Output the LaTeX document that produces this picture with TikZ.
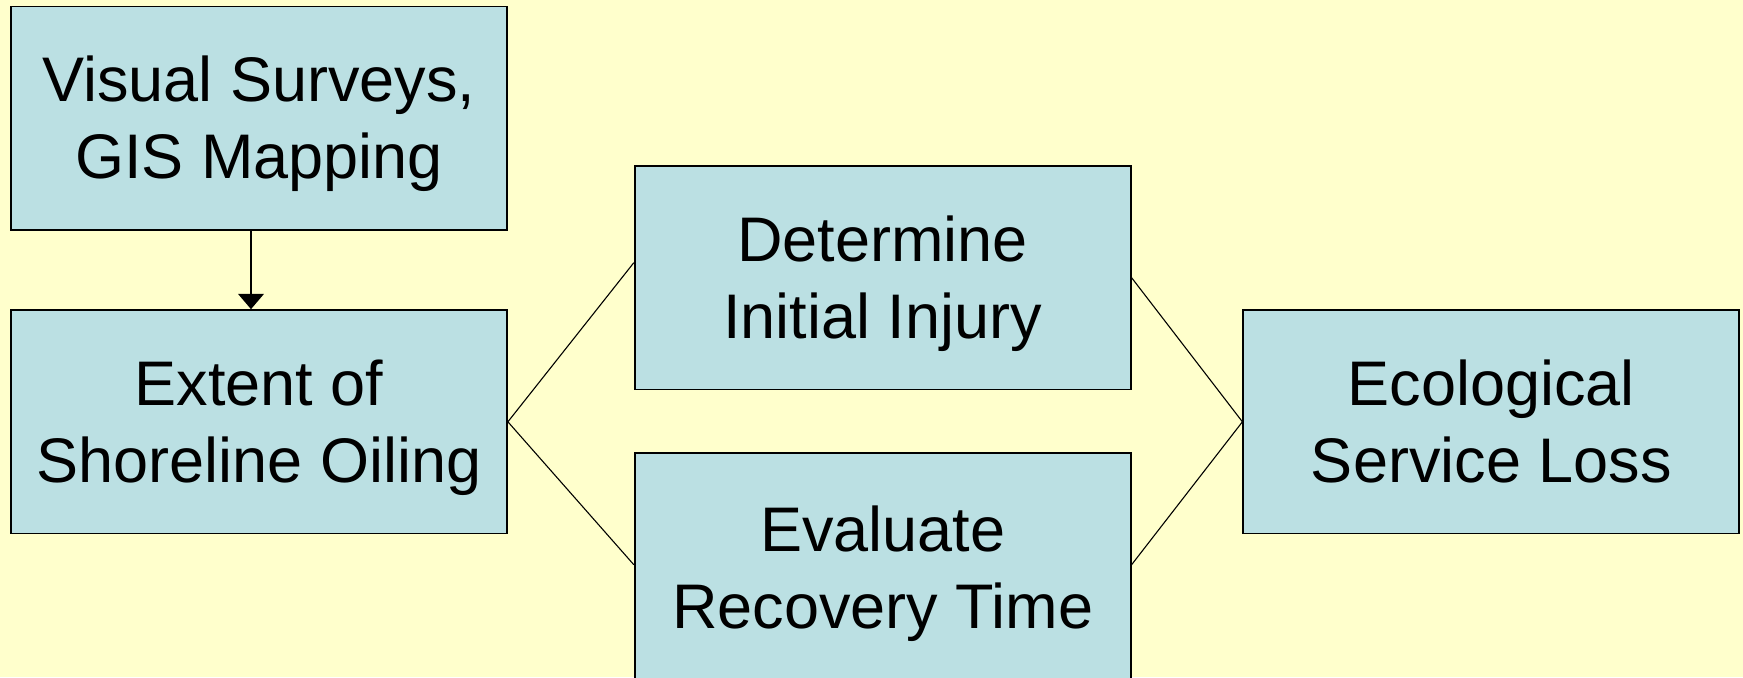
\documentclass[tikz,border=0pt]{standalone}
\usepackage{fontspec}
\setmainfont{Liberation Sans}
\usetikzlibrary{arrows.meta}
\definecolor{bgyellow}{RGB}{255,255,204}
\definecolor{boxblue}{RGB}{187,224,227}
\newcommand{\toprule}{\rule{0pt}{28.6pt}}
\begin{document}
\begin{tikzpicture}[x=0.5pt,y=0.5pt,
  stepbox/.style={draw=black, line width=0.9pt, fill=boxblue, minimum width=248pt, minimum height=111.75pt, inner sep=0pt, align=center, font=\fontsize{31.5}{38.5}\selectfont},
  link/.style={draw=black, line width=0.55pt},
  arrowlink/.style={draw=black, line width=0.7pt, -{Triangle[width=12.8pt,length=7.6pt]}}]
\fill[bgyellow] (0,0) rectangle (1743,677);
\useasboundingbox (0,0) rectangle (1743,677);
\node[stepbox] (b1) at (259,558.7) {\toprule Visual Surveys,\\GIS Mapping\vphantom{g}};
\node[stepbox] (b2) at (259,255.2) {\toprule Extent of\\Shoreline Oiling\vphantom{g}};
\node[stepbox] (b3) at (882.7,399.3) {\toprule Determine\\Initial Injury\vphantom{g}};
\node[stepbox, minimum height=115pt] (b4) at (882.7,108.7) {\toprule Evaluate\\Recovery Time\vphantom{g}};
\node[stepbox] (b5) at (1491.3,255.2) {\toprule Ecological\\Service Loss\vphantom{g}};
\draw[arrowlink] ([xshift=-4pt]b1.south) -- ([xshift=-4pt]b2.north);
\draw[link] (b2.east) -- ([yshift=7.5pt]b3.west);
\draw[link] (b2.east) -- ([yshift=1.8pt]b4.west);
\draw[link] (b3.east) -- (b5.west);
\draw[link] ([yshift=1.8pt]b4.east) -- (b5.west);
\end{tikzpicture}
\end{document}
